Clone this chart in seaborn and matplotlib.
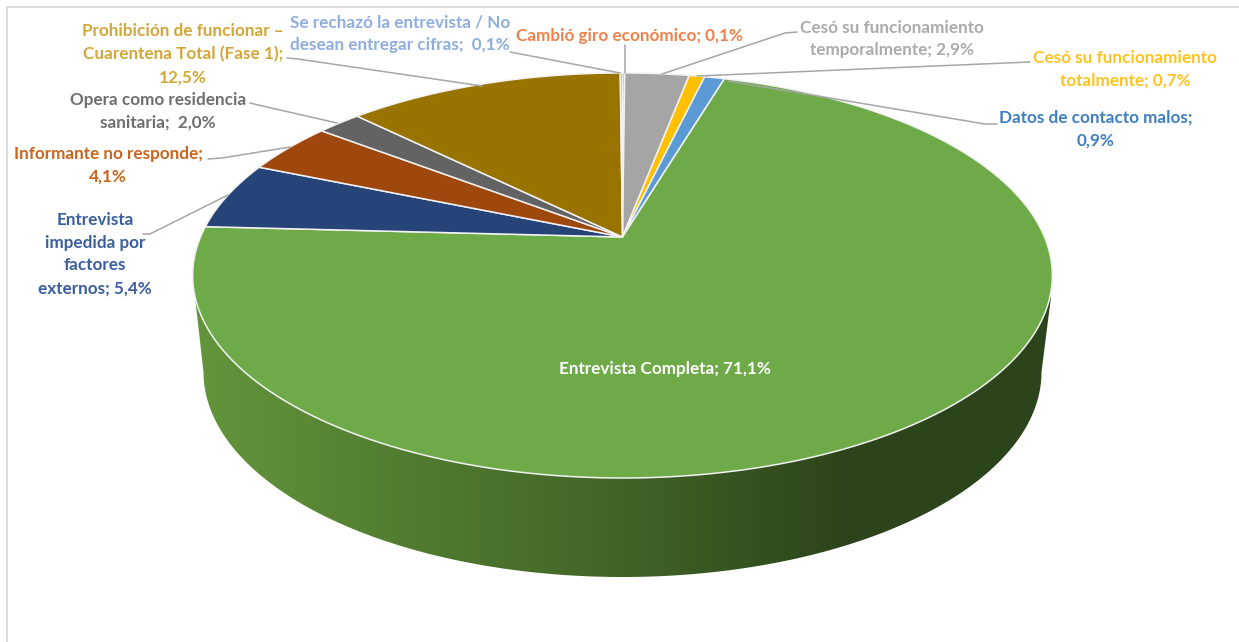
import numpy as np
import matplotlib
matplotlib.use('Agg')
import matplotlib.pyplot as plt
from matplotlib.colors import LinearSegmentedColormap
from matplotlib.patches import Polygon
import seaborn as sns

# --- data ---
names = [
    'Cambió giro económico; ',
    'Cesó su funcionamiento\ntemporalmente; ',
    'Cesó su funcionamiento\ntotalmente; ',
    'Datos de contacto malos;\n',
    'Entrevista Completa; ',
    'Entrevista\nimpedida por\nfactores\nexternos; ',
    'Informante no responde;\n',
    'Opera como residencia\nsanitaria;  ',
    'Prohibición de funcionar –\nCuarentena Total (Fase 1);\n',
    'Se rechazó la entrevista / No\ndesean entregar cifras;  ',
]
values = [0.1, 2.9, 0.7, 0.9, 71.1, 5.4, 4.1, 2.0, 12.5, 0.1]
slice_colors = ['#ED7D31', '#A5A5A5', '#FFC000', '#5B9BD5', '#6EAB48',
                '#264478', '#9E480E', '#636363', '#997300', '#8FAADC']
label_colors = ['#F0814A', '#ABABAB', '#FFC31F', '#3F7FC1', '#FFFFFF',
                '#3A5E9E', '#C9651F', '#6E6E6E', '#D3A638', '#8FAEE0']

# --- layout in image pixels ---
label_pos = [(630, 36), (892, 39), (1125, 69), (1096, 129), (665, 369),
             (95, 254), (108, 165), (158, 111), (183, 54), (400, 34)]
leaders = [
    [(625, 45), (625, 73)],
    [(797, 32), (785, 33), (662, 74)],
    [(1030, 62), (697, 76)],
    [(997, 124), (985, 124), (728, 81)],
    None,
    [(143, 234), (150, 234), (228, 195)],
    [(208, 159), (222, 158), (290, 147)],
    [(250, 103), (258, 105), (337, 123)],
    [(287, 58), (298, 59), (482, 86)],
    [(510, 52), (620, 73)],
]
cx, cy = 622.5, 237
a, b, k = 422, 195.2, 0.19  # perspective of the pie top


def project(theta):
    # unit circle point -> image pixel, with the perspective of the 3D pie
    x, y = np.cos(theta), np.sin(theta)
    return cx + a * x / (1 + k * y), cy - b * y / (1 + k * y)


sns.set_theme(style='white')
plt.rcParams['font.family'] = ['Lato', 'DejaVu Sans']

fig, ax = plt.subplots(figsize=(12.39, 6.42), dpi=100)
fig.subplots_adjust(0, 0, 1, 1)

palette = sns.color_palette(slice_colors)
wedges, _ = ax.pie(values, startangle=90, counterclock=False, colors=palette)
angles = [(w.theta1, w.theta2) for w in wedges]
for w in wedges:
    w.remove()

ax.set_aspect('auto')
ax.set_xlim(0, 1239)
ax.set_ylim(642, 0)
ax.axis('off')

# side wall, horizontal gradient clipped to the rim
wall_cmap = LinearSegmentedColormap.from_list('wall', [
    (0.0, '#64963C'), (0.27, '#507A30'), (0.5, '#416426'),
    (0.76, '#2C441B'), (1.0, '#2C441B')])
t = np.radians(np.linspace(180, 360, 200))
rim_x = 622.5 + 419 * np.cos(t)
rim_y = 372 - 205 * np.sin(t)
wall = Polygon(np.vstack([[(195, 297)], np.column_stack([rim_x, rim_y]),
                          [(1051, 297), (623, 275)]]),
               closed=True, fc='none', ec='none')
ax.add_patch(wall)
grad = ax.imshow(np.linspace(0, 1, 256).reshape(1, -1), cmap=wall_cmap,
                 extent=(190, 1056, 600, 200), aspect='auto', zorder=1)
grad.set_clip_path(wall)
ax.set_xlim(0, 1239)
ax.set_ylim(642, 0)

# pie top
for (t1, t2), color in zip(angles, palette):
    th = np.radians(np.linspace(t1, t2, max(int(t2 - t1) * 3, 3)))
    px, py = project(th)
    pts = np.vstack([[(cx, cy)], np.column_stack([px, py])])
    ax.add_patch(Polygon(pts, closed=True, fc=color, ec='#F2F2F2', lw=1.1,
                         joinstyle='round', zorder=2))

# leader lines and labels
for line in leaders:
    if line is not None:
        xs, ys = zip(*line)
        ax.plot(xs, ys, color='#A6A6A6', lw=1.1, zorder=3)

for name, val, pos, col in zip(names, values, label_pos, label_colors):
    text = name + f'{val:.1f}%'.replace('.', ',')
    ax.text(pos[0], pos[1], text, color=col, ha='center', va='center',
            fontsize=12.3, fontweight='bold', linespacing=1.53, zorder=4)

# image frame
ax.plot([7, 7, 1239], [642, 7, 7], color='#DADADA', lw=1.4, zorder=0)

plt.savefig('out.png', dpi=100)
plt.close()
